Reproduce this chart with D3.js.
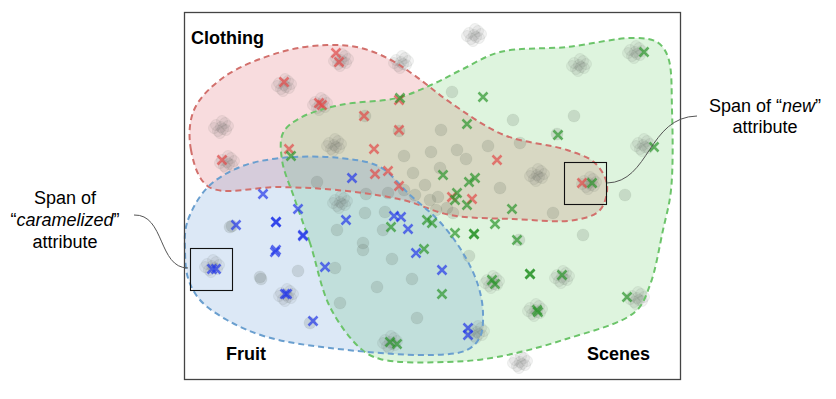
<!DOCTYPE html>
<html><head><meta charset="utf-8">
<script src="https://cdn.jsdelivr.net/npm/d3@7"></script>
<style>body{margin:0;background:#fff}svg{display:block}</style>
</head><body><svg id="c" width="836" height="399"></svg>
<script>
// ---- data (units: 1 unit ≈ 10px, origin at top-left of the frame) ----
const regionNames = ["Clothing", "Scenes", "Fruit"];
const clothingHull = [[2.5,17.5],[0.7,13.8],[1.0,9.8],[4.0,6.5],[9.7,4.0],[14.3,3.3],[17.7,3.6],[20.7,4.8],[23.0,6.3],[26.7,9.1],[32.0,12.3],[38.3,13.8],[41.1,15.1],[42.3,17.3],[41.6,19.8],[39.1,20.8],[32.9,20.7],[26.6,20.3],[21.9,18.8],[15.3,17.8],[9.6,17.5]];
const scenesHull = [[14.6,29.5],[12.6,23.1],[11.1,18.8],[9.8,14.8],[9.9,12.1],[11.6,10.6],[15.6,9.3],[21.3,8.6],[24.7,7.3],[27.7,5.8],[31.6,4.0],[38.3,3.5],[44.9,2.6],[47.3,3.0],[48.4,4.5],[48.8,9.8],[48.7,17.8],[47.9,21.8],[46.6,27.3],[45.1,30.0],[37.9,32.8],[31.3,34.5],[26.3,35.0],[19.6,34.7],[17.6,33.6]];
const fruitHull = [[2.3,17.6],[0.3,21.1],[0.1,23.8],[0.4,26.6],[1.6,28.8],[4.3,30.8],[8.3,32.5],[14.6,33.6],[24.6,34.3],[28.3,33.8],[29.6,32.5],[29.9,30.1],[29.4,27.3],[27.9,24.1],[25.6,21.0],[22.6,18.3],[19.6,15.5],[15.6,14.6],[9.7,14.6],[5.6,15.5]];

const redCrosses = [[15.2,4.1],[15.5,5.0],[10.0,7.0],[13.5,9.1],[13.8,9.3],[3.8,14.8],[21.5,8.8],[18.0,10.4],[21.5,11.8],[10.5,13.7],[19.0,13.7],[31.3,14.8],[19.1,16.2],[20.4,15.9],[21.5,17.4],[26.8,18.5],[28.8,18.7],[39.8,17.1]];
const greenCrosses = [[29.9,8.5],[28.3,11.2],[21.6,8.6],[10.7,14.4],[25.9,16.3],[28.5,17.0],[29.1,16.6],[27.3,18.1],[27.1,18.8],[28.3,19.3],[32.8,19.7],[31.1,21.2],[20.7,21.5],[24.3,20.8],[24.8,21.1],[27.1,22.1],[29.0,22.2],[29.0,22.2],[33.3,22.8],[24.0,23.7],[34.6,26.2],[34.6,26.2],[37.8,26.3],[30.8,26.8],[31.1,27.2],[25.8,28.2],[44.3,28.5],[35.3,29.8],[35.4,30.0],[20.6,33.0],[21.3,33.2],[46.0,4.0],[37.4,12.3],[47.0,13.5],[40.8,17.1]];
const blueCrosses = [[16.8,16.6],[7.9,18.2],[5.2,21.3],[9.2,21.0],[9.2,21.0],[11.4,19.7],[11.9,22.3],[11.9,22.4],[9.2,23.8],[9.1,24.0],[14.1,25.5],[2.8,25.7],[3.2,25.7],[10.1,28.2],[10.3,28.2],[12.9,30.9],[16.2,20.8],[21.0,20.4],[21.7,20.5],[22.4,21.7],[23.2,24.1],[25.8,25.8],[28.4,31.6],[28.4,32.3]];

const grayClusters = [[29.0,2.3],[15.7,4.8],[10.0,7.3],[13.6,9.2],[3.7,11.5],[4.3,15.0],[21.7,5.0],[15.0,13.3],[39.5,5.3],[45.1,4.0],[45.9,13.3],[35.3,16.3],[2.8,25.4],[15.6,19.0],[40.5,17.1],[30.8,27.0],[45.3,28.6],[35.1,29.8],[20.6,33.0],[33.6,35.0],[10.2,28.3],[29.3,32.0],[37.8,26.5]];
const grayDots = [[26.8,8.0],[32.9,10.8],[39.0,10.4],[37.3,12.2],[33.6,13.1],[25.7,11.8],[18.1,10.4],[21.5,11.9],[22.0,14.4],[24.7,14.0],[27.3,13.8],[28.2,14.7],[30.4,13.4],[22.9,16.1],[25.6,15.6],[31.6,17.6],[13.3,17.0],[18.2,18.2],[20.4,18.1],[22.0,17.8],[24.1,17.3],[24.6,18.8],[23.1,18.3],[25.4,18.5],[26.3,19.6],[26.9,20.1],[25.2,19.8],[18.1,20.1],[20.1,20.0],[15.3,21.8],[17.9,23.1],[19.9,21.8],[36.9,20.1],[44.1,18.3],[39.9,22.3],[17.9,23.8],[20.8,24.7],[28.5,24.4],[15.1,25.6],[22.8,26.7],[19.3,27.5],[15.6,29.1],[23.3,30.6],[4.8,21.4],[7.6,26.5],[11.4,25.9],[12.6,31.1],[33.5,22.8],[4.6,21.5],[7.7,26.7]];

const zoomBoxes = [[0.6,23.6,4.8,27.8],[38.0,15.0,42.2,19.2]];

// ---- scales ----
const x = d3.scaleLinear().domain([0,50]).range([184,684]);
const y = d3.scaleLinear().domain([0,37]).range([12,382]);
const svg = d3.select("#c");

const line = d3.line().x(d=>x(d[0])).y(d=>y(d[1])).curve(d3.curveCatmullRomClosed.alpha(0.5));
const regions = [
  {pts:clothingHull, fill:"rgba(220,80,90,0.2)", stroke:"#d2706c"},
  {pts:scenesHull, fill:"rgba(90,200,90,0.2)", stroke:"#6cc46a"},
  {pts:fruitHull, fill:"rgba(80,140,210,0.2)", stroke:"#6a9fcf"}
];
svg.selectAll("path.fill").data(regions).join("path").attr("class","fill")
  .attr("d",d=>line(d.pts)).attr("fill",d=>d.fill).attr("stroke","none");

// gray dots
const dotG = svg.append("g");
const clusterOffsets = [[0,0],[-5,-2],[4,-4],[-3,4],[5,3],[1,-6],[-1,6],[-7,1],[7,-1],[2,2]];
grayClusters.forEach(c=>{
  dotG.selectAll(null).data(clusterOffsets).join("circle")
    .attr("cx",o=>x(c[0])+o[0]).attr("cy",o=>y(c[1])+o[1]).attr("r",5.5)
    .attr("fill","#4b554b").attr("fill-opacity",0.075)
    .attr("stroke","#4b554b").attr("stroke-opacity",0.08).attr("stroke-width",1);
});
dotG.selectAll("circle.d").data(grayDots).join("circle").attr("class","d")
  .attr("cx",d=>x(d[0])).attr("cy",d=>y(d[1])).attr("r",6)
  .attr("fill","#4b554b").attr("fill-opacity",0.16)
  .attr("stroke","#4b554b").attr("stroke-opacity",0.06).attr("stroke-width",1);

// region outlines
svg.selectAll("path.stroke").data(regions).join("path").attr("class","stroke")
  .attr("d",d=>line(d.pts)).attr("fill","none").attr("stroke",d=>d.stroke)
  .attr("stroke-width",2).attr("stroke-dasharray","6,4");

// crosses
const crossPath = "M-4.5,-4.5L4.5,4.5M-4.5,4.5L4.5,-4.5";
function crosses(data,color){
  svg.append("g").selectAll("path").data(data).join("path")
    .attr("transform",d=>`translate(${x(d[0])},${y(d[1])})`)
    .attr("d",crossPath).attr("stroke",color).attr("stroke-width",2.5)
    .attr("stroke-opacity",0.7).attr("fill","none");
}
crosses(redCrosses,"#e24a48");
crosses(greenCrosses,"#2c962c");
crosses(blueCrosses,"#2438ea");

// frame
svg.append("rect").attr("x",x(0)+0.5).attr("y",y(0)+0.5).attr("width",x(49.6)-x(0)).attr("height",y(36.7)-y(0))
  .attr("fill","none").attr("stroke","#444").attr("stroke-width",1.3);

// zoom boxes
svg.selectAll("rect.zb").data(zoomBoxes).join("rect").attr("class","zb")
  .attr("x",d=>x(d[0])+0.5).attr("y",d=>y(d[1])+0.5).attr("width",d=>x(d[2])-x(d[0])).attr("height",d=>y(d[3])-y(d[1]))
  .attr("fill","none").attr("stroke","#111").attr("stroke-width",1.1);

// region labels
const labelPos = [[0.7,3.2],[40.3,34.8],[4.2,34.8]];
const ff = "Liberation Sans, Arial, sans-serif";
svg.selectAll("text.lab").data(regionNames).join("text").attr("class","lab")
  .attr("x",(d,i)=>x(labelPos[i][0])).attr("y",(d,i)=>y(labelPos[i][1]))
  .attr("font-family",ff).attr("font-weight","bold").attr("font-size",18)
  .attr("fill","#000").text(d=>d);

// right annotation
let t1 = svg.append("text").attr("font-family",ff).attr("font-size",18).attr("text-anchor","middle").attr("x",765).attr("y",112);
t1.append("tspan").text("Span of \u201c");
t1.append("tspan").attr("font-style","italic").text("new");
t1.append("tspan").text("\u201d");
svg.append("text").attr("font-family",ff).attr("font-size",18).attr("text-anchor","middle").attr("x",765).attr("y",133).text("attribute");
// left annotation
svg.append("text").attr("font-family",ff).attr("font-size",18).attr("text-anchor","middle").attr("x",65).attr("y",204).text("Span of");
let t2 = svg.append("text").attr("font-family",ff).attr("font-size",18).attr("text-anchor","middle").attr("x",65).attr("y",226);
t2.append("tspan").text("\u201c");
t2.append("tspan").attr("font-style","italic").text("caramelized");
t2.append("tspan").text("\u201d");
svg.append("text").attr("font-family",ff).attr("font-size",18).attr("text-anchor","middle").attr("x",65).attr("y",248).text("attribute");

// connectors
svg.append("path").attr("d","M607,183 C650,182 648,117 697,116").attr("fill","none").attr("stroke","#555").attr("stroke-width",1);
svg.append("path").attr("d","M134,215 C165,214 158,268 188,268").attr("fill","none").attr("stroke","#555").attr("stroke-width",1);
</script></body></html>
